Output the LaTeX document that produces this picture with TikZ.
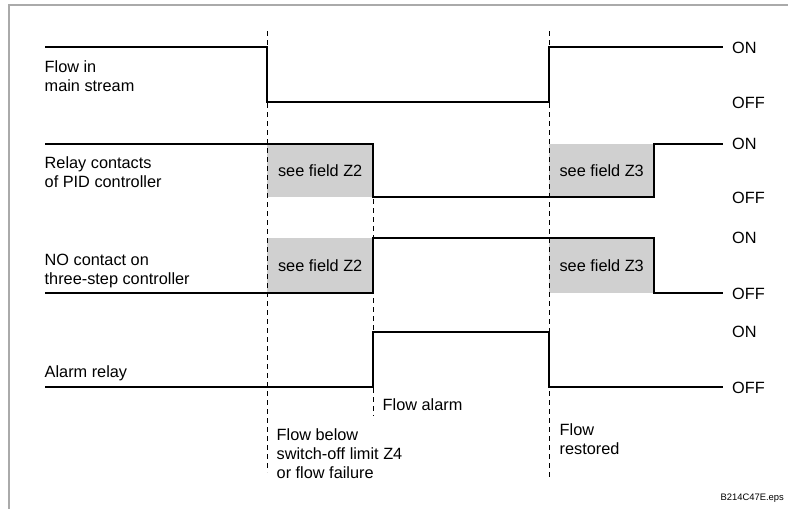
\documentclass[tikz,border=0pt]{standalone}
\usepackage{fontspec}
\setmainfont{Liberation Sans}
\definecolor{fieldgray}{RGB}{208,208,208}
\definecolor{framegray}{RGB}{170,170,170}
\begin{document}
\begin{tikzpicture}[x=1pt,y=-1pt,
  sig/.style={line width=1.6pt, line join=miter},
  guide/.style={line width=1pt, dash pattern=on 5pt off 4pt},
  txt/.style={font=\fontsize{16.3}{19}\selectfont, inner sep=0pt},
  lbl/.style={txt, anchor=base west},
  state/.style={txt, anchor=west},
  field/.style={txt, fill=fieldgray, minimum height=#1, anchor=north west},
  fieldw/.style={minimum width=#1}
]
\useasboundingbox (0,0) rectangle (788,509);
\draw[framegray, line width=1.4pt] (9,509) -- (9,5) -- (788,5);

% shaded fields
\node[field=53pt, fieldw=106pt] (rz2) at (267,144) {see field Z2};
\node[field=53pt, fieldw=105pt] (rz3) at (549,144) {see field Z3};
\node[field=55pt, fieldw=106pt] (nz2) at (267,238) {see field Z2};
\node[field=55pt, fieldw=105pt] (nz3) at (549,238) {see field Z3};

% time guides
\coordinate (g1a) at (267,31);  \coordinate (g1b) at (267,472);
\coordinate (g2a) at (373,199); \coordinate (g2b) at (373,416);
\coordinate (g3a) at (549,31);  \coordinate (g3b) at (549,480);
\draw[guide] (g1a) -- (g1b);
\draw[guide] (g2a) -- (g2b);
\draw[guide] (g3a) -- (g3b);

% signals
\draw[sig] (45,47) -- (267,47) -- (267,102) -- (549,102) -- (549,47) -- (723,47);
\draw[sig] (45,144) -- (373,144) -- (373,197) -- (654,197) -- (654,144) -- (723,144);
\draw[sig] (45,293) -- (373,293) -- (373,238) -- (654,238) -- (654,293) -- (723,293);
\draw[sig] (45,387) -- (373,387) -- (373,332) -- (549,332) -- (549,387) -- (723,387);

% signal names
\node[lbl] (f1) at (44.5,72) {Flow in};
\node[lbl] (f2) at (44.5,91) {main stream};
\node[lbl] (r1) at (44.5,168) {Relay contacts};
\node[lbl] (r2) at (44.5,187) {of PID controller};
\node[lbl] (n1) at (44.5,265) {NO contact on};
\node[lbl] (n2) at (44.5,284) {three-step controller};
\node[lbl] (a1) at (44.5,377) {Alarm relay};

% states
\node[state] (on1) at (732,47.5) {ON};
\node[state] (off1) at (732,102.5) {OFF};
\node[state] (on2) at (732,144) {ON};
\node[state] (off2) at (732,197.5) {OFF};
\node[state] (on3) at (732,238) {ON};
\node[state] (off3) at (732,293.5) {OFF};
\node[state] (on4) at (732,332) {ON};
\node[state] (off4) at (732,387.5) {OFF};

% events
\node[lbl] (e1) at (382.5,410) {Flow alarm};
\node[lbl] (e2a) at (276.5,440) {Flow below};
\node[lbl] (e2b) at (276.5,459) {switch-off limit Z4};
\node[lbl] (e2c) at (276.5,478) {or flow failure};
\node[lbl] (e3a) at (559.5,435) {Flow};
\node[lbl] (e3b) at (559.5,454) {restored};

\node[font=\fontsize{9.4}{11}\selectfont, inner sep=0pt, anchor=base east] (fn) at (784,500) {B214C47E.eps};
\end{tikzpicture}
\end{document}
